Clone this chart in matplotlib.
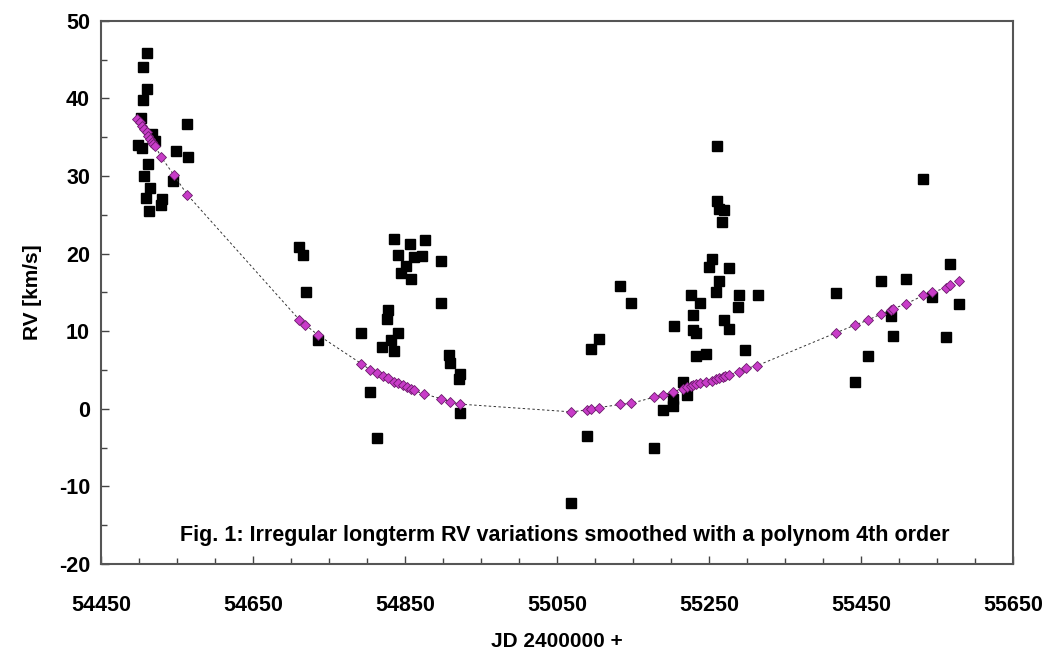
import numpy as np
import matplotlib
matplotlib.use('Agg')
import matplotlib.pyplot as plt
from matplotlib.ticker import MultipleLocator, FixedLocator

plt.rcParams['font.family'] = ['Liberation Sans', 'DejaVu Sans']
plt.rcParams['font.weight'] = 'bold'
plt.rcParams['axes.unicode_minus'] = False

# observed RVs (black squares)
obs_jd = [54509.8, 54504.6, 54509.8, 54504.6, 54502.0, 54516.4, 54520.8, 54562.4, 54498.0, 54503.3,
          54548.0, 54563.8, 54511.2, 54506.3, 54544.8, 54514.2, 54508.5, 54529.6, 54528.2, 54512.5,
          54710.5, 54715.8, 54835.1, 54856.1, 54875.8, 54840.7, 54861.4, 54872.8, 54897.8, 54850.8,
          54845.2, 54858.3, 54719.3, 54897.8, 54827.6, 54826.3, 54792.6, 54840.7, 54735.5, 54832.0,
          54820.2, 54835.1, 54907.4, 54908.7, 54922.8, 54920.5, 54804.4, 54922.8, 54813.1,
          55260.8, 55260.8, 55263.8, 55270.4, 55267.3, 55253.7, 55250.6, 55276.9, 55263.8, 55259.4,
          55290.1, 55287.9, 55226.6, 55238.8, 55229.6, 55133.2, 55147.7, 55204.6, 55229.6, 55233.1,
          55270.4, 55276.9, 55298.0, 55233.1, 55246.3, 55105.0, 55095.0, 55215.5, 55202.4, 55221.3,
          55190.1, 55202.4, 55089.3, 55178.3, 55068.8,
          55532.0, 55567.2, 55477.2, 55509.3, 55417.7, 55314.2, 55579.4, 55544.3, 55489.6, 55492.6,
          55561.9, 55458.8, 55442.6]
obs_rv = [45.9, 44.1, 41.2, 39.8, 37.5, 35.4, 34.5, 36.7, 34.0, 33.6,
          33.2, 32.5, 31.5, 30.0, 29.4, 28.4, 27.2, 27.0, 26.3, 25.5,
          20.9, 19.8, 21.9, 21.2, 21.7, 19.8, 19.5, 19.7, 19.1, 18.4,
          17.5, 16.7, 15.1, 13.6, 12.7, 11.6, 9.8, 9.8, 8.9, 8.8,
          7.9, 7.4, 6.9, 5.9, 4.5, 3.8, 2.2, -0.6, -3.8,
          33.9, 26.8, 25.8, 25.6, 24.1, 19.3, 18.3, 18.2, 16.5, 15.0,
          14.7, 13.1, 14.7, 13.6, 12.1, 15.8, 13.6, 10.6, 10.1, 9.8,
          11.4, 10.3, 7.6, 6.8, 7.0, 8.95, 7.7, 3.5, 1.3, 1.8,
          -0.1, 0.3, -3.5, -5.0, -12.2,
          29.6, 18.7, 16.4, 16.7, 14.9, 14.6, 13.5, 14.4, 11.9, 9.4,
          9.2, 6.8, 3.4]

# 4th order polynomial values (magenta diamonds)
fit_jd = [54497.5, 54501.0, 54504.0, 54506.7, 54509.8, 54512.0, 54514.2, 54516.4, 54518.5, 54520.8,
          54528.6, 54545.7, 54563.2, 54710.5, 54718.9, 54735.5, 54792.6, 54804.4, 54813.1, 54821.0,
          54827.6, 54835.1, 54840.7, 54847.3, 54852.6, 54858.3, 54861.4, 54874.5, 54897.8, 54908.7,
          54921.9, 55068.8, 55089.8, 55095.0, 55105.0, 55133.2, 55147.7, 55178.3, 55190.1, 55203.3,
          55215.5, 55221.3, 55226.6, 55229.6, 55233.1, 55238.8, 55246.3, 55253.7, 55259.4, 55263.8,
          55268.1, 55271.7, 55276.9, 55289.2, 55298.9, 55313.4, 55417.7, 55442.6, 55458.8, 55476.4,
          55489.6, 55492.6, 55509.3, 55532.0, 55544.3, 55561.9, 55567.2, 55579.4]
fit_rv = [37.4, 36.9, 36.4, 36.0, 35.6, 35.1, 34.8, 34.4, 34.1, 33.9,
          32.5, 30.1, 27.6, 11.5, 10.8, 9.5, 5.8, 5.0, 4.6, 4.2,
          3.9, 3.5, 3.3, 3.1, 2.85, 2.6, 2.4, 1.9, 1.3, 0.9,
          0.6, -0.4, -0.15, -0.05, 0.15, 0.55, 0.7, 1.5, 1.8, 2.2,
          2.6, 2.85, 2.95, 3.05, 3.2, 3.3, 3.5, 3.6, 3.85, 4.0,
          4.15, 4.2, 4.4, 4.75, 5.2, 5.55, 9.8, 10.8, 11.4, 12.2,
          12.7, 12.9, 13.5, 14.6, 15.0, 15.6, 15.9, 16.4]

x_ticks = [54450, 54650, 54850, 55050, 55250, 55450, 55650]

fig = plt.figure(figsize=(10.52, 6.6), dpi=100)
ax = fig.add_axes([0.0962, 0.1455, 0.8665, 0.8231])

ax.plot(obs_jd, obs_rv, 's', color='black', markersize=6.5, zorder=2)
ax.plot(fit_jd, fit_rv, '--', color='#333333', lw=0.7, dashes=(2.5, 2.5), zorder=3)
ax.plot(fit_jd, fit_rv, 'D', markerfacecolor='#C83CC8', markeredgecolor='#6A1B6A',
        markeredgewidth=0.6, markersize=5.0, linestyle='none', zorder=4)

ax.set_xlim(54450, 55650)
ax.set_ylim(-20, 50)
ax.xaxis.set_major_locator(FixedLocator(x_ticks))
ax.xaxis.set_minor_locator(MultipleLocator(50))
ax.yaxis.set_major_locator(MultipleLocator(10))
ax.yaxis.set_minor_locator(MultipleLocator(5))
ax.tick_params(which='both', direction='in', color='#444444', width=1)
ax.tick_params(which='major', length=6)
ax.tick_params(which='minor', length=4)
ax.tick_params(axis='x', which='major', labelsize=15.5, pad=22)
ax.tick_params(axis='y', which='major', labelsize=15.5, pad=8)
for s in ax.spines.values():
    s.set_color('#555555')
    s.set_linewidth(1.5)

ax.set_xlabel('JD 2400000 +', fontsize=15, fontweight='bold', labelpad=12)
ax.set_ylabel('RV [km/s]', fontsize=15, fontweight='bold', labelpad=12)

ax.text(0.0865, 0.0423, 'Fig. 1: Irregular longterm RV variations smoothed with a polynom 4th order',
        transform=ax.transAxes, fontsize=15.5, fontweight='bold', va='baseline', ha='left')

fig.savefig('out.png', dpi=100)
